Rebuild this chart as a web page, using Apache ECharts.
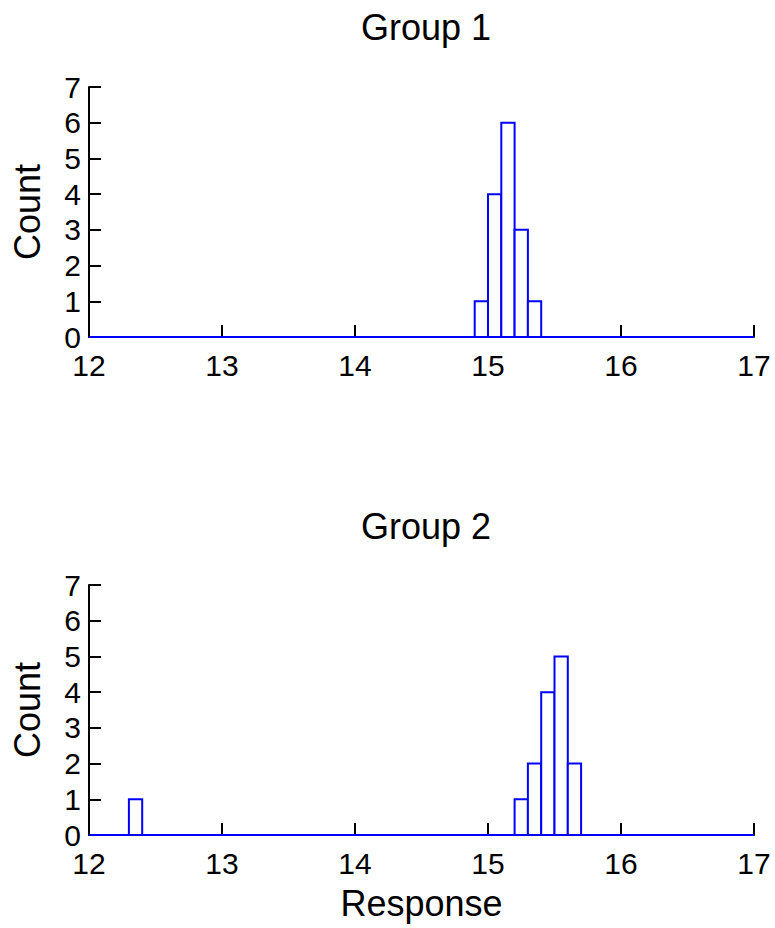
<!DOCTYPE html>
<html>
<head>
<meta charset="utf-8">
<script src="https://cdn.jsdelivr.net/npm/echarts@6/dist/echarts.min.js"></script>
<style>html,body{margin:0;padding:0;background:#fff;}#chart{width:775px;height:928px;}</style>
</head>
<body>
<div id="chart"></div>
<script>
// ---- data ----
const binWidth = 0.1;
const group1BinStarts = [14.9, 15.0, 15.1, 15.2, 15.3];
const group1Counts    = [1, 4, 6, 3, 1];
const group2BinStarts = [12.3, 15.2, 15.3, 15.4, 15.5, 15.6];
const group2Counts    = [1, 1, 2, 4, 5, 2];
const xTicks = [12, 13, 14, 15, 16, 17];
const yTicks = [0, 1, 2, 3, 4, 5, 6, 7];
const titles = ['Group 1', 'Group 2'];
const xName = 'Response';
const yName = 'Count';

const FONT = 'Liberation Sans, Arial, Helvetica, sans-serif';
const chart = echarts.init(document.getElementById('chart'), null, {renderer: 'svg'});

function histData(starts, counts) {
  return starts.map((s, i) => [s, +(s + binWidth).toFixed(2), counts[i]]);
}

function renderBin(params, api) {
  const p0 = api.coord([api.value(0), api.value(2)]);
  const p1 = api.coord([api.value(1), 0]);
  return {
    type: 'rect',
    shape: {x: p0[0], y: p0[1], width: p1[0] - p0[0], height: p1[1] - p0[1]},
    style: {fill: '#ffffff', stroke: '#0000ff', lineWidth: 2}
  };
}

function xAxis(idx, withName) {
  return {
    type: 'value', gridIndex: idx, min: xTicks[0], max: xTicks[xTicks.length - 1], interval: 1,
    axisLine: {show: true, onZero: false, lineStyle: {color: '#000', width: 2}},
    axisTick: {show: true, inside: true, length: 12, lineStyle: {color: '#000', width: 2}},
    axisLabel: {color: '#000', fontSize: 30, fontFamily: FONT, margin: 13},
    splitLine: {show: false},
    name: withName ? xName : '', nameLocation: 'middle', nameGap: 50,
    nameTextStyle: {color: '#000', fontSize: 36, fontFamily: FONT}
  };
}
function yAxis(idx) {
  return {
    type: 'value', gridIndex: idx, min: yTicks[0], max: yTicks[yTicks.length - 1], interval: 1,
    axisLine: {show: true, lineStyle: {color: '#000', width: 2}},
    axisTick: {show: true, inside: true, length: 12, lineStyle: {color: '#000', width: 2}},
    axisLabel: {color: '#000', fontSize: 30, lineHeight: 24, fontFamily: FONT, margin: 8},
    splitLine: {show: false},
    name: yName, nameLocation: 'middle', nameGap: 44, nameRotate: 90,
    nameTextStyle: {color: '#000', fontSize: 36, fontFamily: FONT}
  };
}

const option = {
  backgroundColor: '#fff',
  animation: false,
  title: titles.map((t, i) => ({
    text: t, left: 421, top: i === 0 ? 4 : 503, textAlign: 'center',
    textStyle: {color: '#000', fontSize: 36, fontWeight: 'normal', fontFamily: FONT}
  })),
  grid: [
    {left: 89, top: 87, width: 665, height: 250},
    {left: 89, top: 585, width: 665, height: 250}
  ],
  xAxis: [xAxis(0, false), xAxis(1, true)],
  yAxis: [yAxis(0), yAxis(1)],
  series: [
    {type: 'line', xAxisIndex: 0, yAxisIndex: 0, data: [[xTicks[0], 0], [xTicks[xTicks.length - 1], 0]],
     symbol: 'none', lineStyle: {color: '#0000ff', width: 2}, z: 3},
    {type: 'custom', xAxisIndex: 0, yAxisIndex: 0, data: histData(group1BinStarts, group1Counts),
     renderItem: renderBin, z: 4},
    {type: 'line', xAxisIndex: 1, yAxisIndex: 1, data: [[xTicks[0], 0], [xTicks[xTicks.length - 1], 0]],
     symbol: 'none', lineStyle: {color: '#0000ff', width: 2}, z: 3},
    {type: 'custom', xAxisIndex: 1, yAxisIndex: 1, data: histData(group2BinStarts, group2Counts),
     renderItem: renderBin, z: 4}
  ]
};
chart.setOption(option);
</script>
</body>
</html>
